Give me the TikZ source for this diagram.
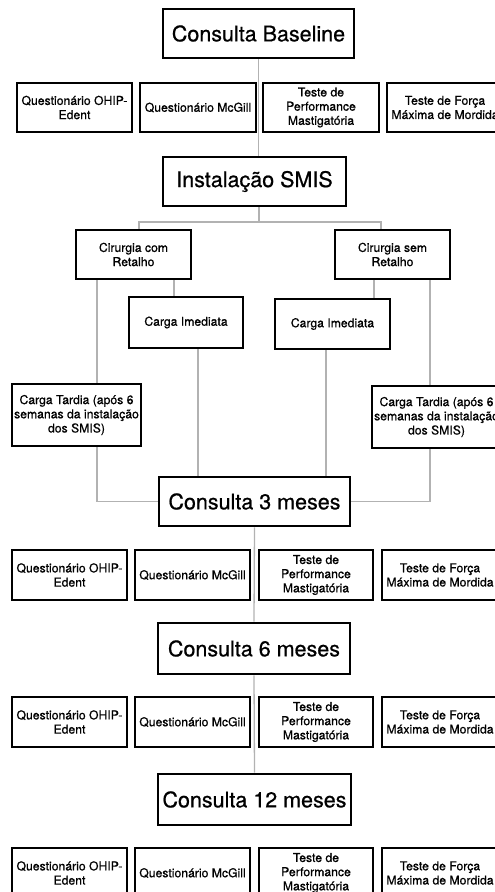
\documentclass[tikz,border=0pt]{standalone}
\usepackage{fontspec}
\setmainfont{TeX Gyre Heros}[FakeBold=0.7]

\tikzset{
  box/.style={draw, line width=2.9pt, fill=white, align=center, inner sep=0pt,
    minimum width=115pt, minimum height=49pt, font=\fontsize{12.2}{14.2}\selectfont},
  bigbox/.style={box, minimum width=191pt, font=\fontsize{21.5}{24}\selectfont},
  link/.style={draw=black!30, line width=1.3pt}
}

\begin{document}
\begin{tikzpicture}[x=1pt, y=-1pt]

    % --- Frame (same size as the reference) ---
    \useasboundingbox (0,0) rectangle (495,892);

    % --- Columns used by the connectors ---
    \coordinate (colA) at (97,0);
    \coordinate (colB) at (174,0);
    \coordinate (colC) at (198,0);
    \coordinate (colD) at (326,0);
    \coordinate (colE) at (374,0);
    \coordinate (colF) at (430,0);
    \coordinate (fork) at (259,222);

    % --- Baseline ---
    \node[bigbox] (base) at (258.5,33.5) {Consulta Baseline};
    \node[box] (baseQ) at (74.5,107.5) {Questionário OHIP-\\Edent};
    \node[box, minimum width=116pt] (baseM) at (198,107.5) {Questionário McGill};
    \node[box, minimum width=116pt] (baseP) at (321,107.5) {Teste de\\Performance\\Mastigatória};
    \node[box, minimum width=116pt] (baseF) at (445,107.5) {Teste de Força\\Máxima de Mordida};

    % --- Installation and surgery ---
    \node[bigbox, minimum width=183pt] (smis) at (254.5,181.5) {Instalação SMIS};
    \node[box] (cirCom) at (133.5,254.5) {Cirurgia com\\Retalho};
    \node[box] (cirSem) at (392.5,254.5) {Cirurgia sem\\Retalho};

    % --- Loading ---
    \node[box, minimum width=114pt, minimum height=51pt] (imL) at (186,322.5) {Carga Imediata};
    \node[box, minimum height=50pt] (imR) at (332.5,324) {Carga Imediata};
    \node[box, minimum width=129pt, minimum height=62pt] (tardL) at (76.5,415)
      {Carga Tardia (após 6\\semanas da instalação\\dos SMIS)};
    \node[box, minimum width=129pt, minimum height=62pt] (tardR) at (436.5,417)
      {Carga Tardia (após 6\\semanas da instalação\\dos SMIS)};

    % --- 3 months ---
    \node[bigbox] (c3) at (254.5,501.5) {Consulta 3 meses};
    \node[box, minimum height=50pt] (c3Q) at (69.5,575) {Questionário OHIP-\\Edent};
    \node[box, minimum height=50pt] (c3M) at (192.5,575) {Questionário McGill};
    \node[box, minimum width=114pt, minimum height=50pt] (c3P) at (316,575) {Teste de\\Performance\\Mastigatória};
    \node[box, minimum width=116pt, minimum height=50pt] (c3F) at (440,575) {Teste de Força\\Máxima de Mordida};

    % --- 6 months ---
    \node[bigbox, minimum width=192pt, minimum height=51pt] (c6) at (254,648.5) {Consulta 6 meses};
    \node[box, minimum height=50pt] (c6Q) at (69.5,722) {Questionário OHIP-\\Edent};
    \node[box, minimum height=50pt] (c6M) at (192.5,722) {Questionário McGill};
    \node[box, minimum width=114pt, minimum height=50pt] (c6P) at (316,722) {Teste de\\Performance\\Mastigatória};
    \node[box, minimum width=116pt, minimum height=50pt] (c6F) at (440,722) {Teste de Força\\Máxima de Mordida};

    % --- 12 months ---
    \node[bigbox, minimum width=193pt, minimum height=51pt] (c12) at (254.5,799.5) {Consulta 12 meses};
    \node[box, minimum height=50pt] (c12Q) at (69.5,873) {Questionário OHIP-\\Edent};
    \node[box, minimum height=50pt] (c12M) at (192.5,873) {Questionário McGill};
    \node[box, minimum width=114pt, minimum height=50pt] (c12P) at (316,873) {Teste de\\Performance\\Mastigatória};
    \node[box, minimum width=116pt, minimum height=50pt] (c12F) at (440,873) {Teste de Força\\Máxima de Mordida};

    % --- Connectors ---
    \draw[link] (base.south) -- (base.south |- smis.north);
    \draw[link] (fork |- smis.south) -- (fork);
    \draw[link] ([xshift=5.5pt]cirCom.north) |- (fork) -| ([xshift=-11.5pt]cirSem.north);

    % surgery -> loading
    \draw[link] (cirCom.south -| colA) -- (tardL.north -| colA);
    \draw[link] (cirCom.south -| colB) -- (imL.north -| colB);
    \draw[link] (cirSem.south -| colE) -- (imR.north -| colE);
    \draw[link] (cirSem.south -| colF) -- (tardR.north -| colF);

    % loading -> 3 months
    \draw[link] (imL.south -| colC) -- (c3.north -| colC);
    \draw[link] (imR.south -| colD) -- (c3.north -| colD);
    \draw[link] (tardL.south -| colA) |- (c3.west);
    \draw[link] (tardR.south -| colF) |- (c3.east);

    % follow-up visits
    \draw[link] (c3.south) -- (c6.north);
    \draw[link] (c6.south) -- (c12.north);

\end{tikzpicture}
\end{document}
